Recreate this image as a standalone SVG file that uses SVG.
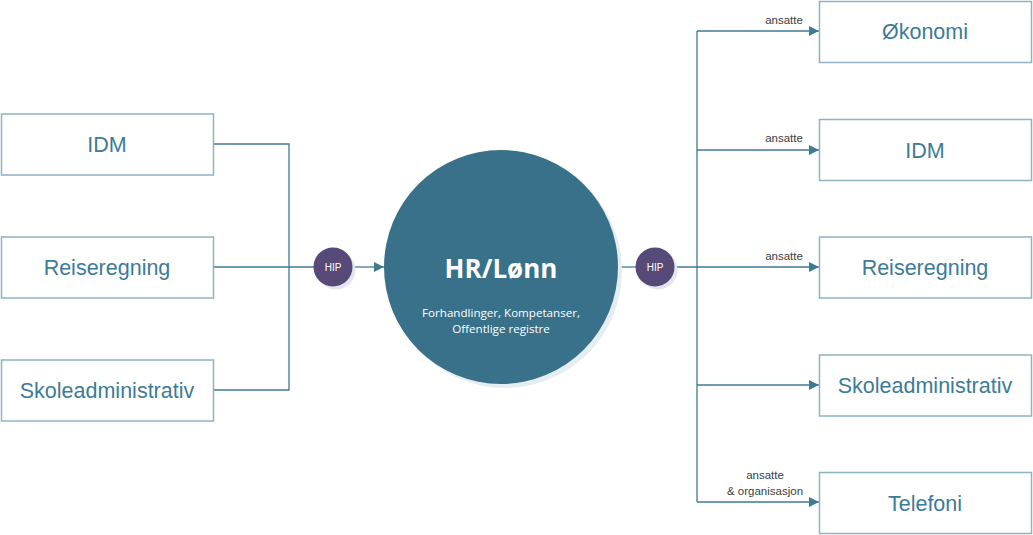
<svg xmlns="http://www.w3.org/2000/svg" width="1033" height="535" viewBox="0 0 1033 535">
<defs>
<style>
.box{fill:#fff;stroke:#8FB3C3;stroke-width:1.5}
.bt{font-family:"Liberation Sans",Arial,sans-serif;font-size:21.5px;fill:#3D7B98;text-anchor:middle}
.con{fill:none;stroke:#3F7A93;stroke-width:1.3}
.lbl{font-family:"Liberation Sans",Arial,sans-serif;font-size:11.5px;fill:#404040;text-anchor:middle}
.hip{fill:#574A79}
.hipt{font-family:"Liberation Sans",Arial,sans-serif;font-size:10px;fill:#fff;text-anchor:middle}
.sh{fill:#E3E6EC}
</style>
<marker id="arr" markerWidth="10" markerHeight="10" refX="10" refY="5" orient="auto" markerUnits="userSpaceOnUse">
<path d="M0,0 L10,5 L0,10 Z" fill="#3F7A93"/>
</marker>
</defs>
<rect width="1033" height="535" fill="#fff"/>
<g id="connectors">
<polyline class="con" points="213,144 289,144 289,390 213,390"/>
<line class="con" x1="213" y1="267" x2="314" y2="267"/>
<line class="con" x1="353" y1="267" x2="384" y2="267" marker-end="url(#arr)"/>
<line class="con" x1="618" y1="267" x2="636" y2="267"/>
<line class="con" x1="675" y1="267" x2="819" y2="267" marker-end="url(#arr)"/>
<line class="con" x1="697" y1="31" x2="697" y2="502"/>
<line class="con" x1="697" y1="31" x2="819" y2="31" marker-end="url(#arr)"/>
<line class="con" x1="697" y1="150" x2="819" y2="150" marker-end="url(#arr)"/>
<line class="con" x1="697" y1="385" x2="819" y2="385" marker-end="url(#arr)"/>
<line class="con" x1="697" y1="502" x2="819" y2="502" marker-end="url(#arr)"/>
<text class="lbl" x="784" y="24">ansatte</text>
<text class="lbl" x="784" y="142">ansatte</text>
<text class="lbl" x="784" y="260">ansatte</text>
<text class="lbl" x="765" y="479">ansatte</text>
<text class="lbl" x="765" y="495">&amp; organisasjon</text>
</g>
<g id="l-idm"><rect class="box" x="1.5" y="114" width="212" height="61"/><text class="bt" x="107" y="152">IDM</text></g>
<g id="l-reise"><rect class="box" x="1.5" y="237" width="212" height="61"/><text class="bt" x="107" y="275">Reiseregning</text></g>
<g id="l-skole"><rect class="box" x="1.5" y="360" width="212" height="61"/><text class="bt" x="107" y="398">Skoleadministrativ</text></g>
<g id="hip-left"><circle class="sh" cx="336" cy="270" r="19.5"/><circle class="hip" cx="333" cy="267" r="19.5"/><text class="hipt" x="333" y="271">HIP</text></g>
<g id="hr">
<circle cx="505" cy="271" r="117" fill="#E6EDF0"/>
<circle cx="501" cy="267" r="117" fill="#387189"/>
<text x="501" y="278" font-family="'Open Sans','Liberation Sans',sans-serif" font-size="26" font-weight="bold" fill="#fff" text-anchor="middle">HR/Lønn</text>
<text x="501" y="317" font-family="'Open Sans','Liberation Sans',sans-serif" font-size="11.6" fill="#fff" text-anchor="middle">Forhandlinger, Kompetanser,</text>
<text x="501" y="333" font-family="'Open Sans','Liberation Sans',sans-serif" font-size="11.6" fill="#fff" text-anchor="middle">Offentlige registre</text>
</g>
<g id="hip-right"><circle class="sh" cx="658" cy="270" r="19.5"/><circle class="hip" cx="655" cy="267" r="19.5"/><text class="hipt" x="655" y="271">HIP</text></g>
<g id="r-okonomi"><rect class="box" x="819.5" y="1.5" width="212" height="61"/><text class="bt" x="925" y="39">Økonomi</text></g>
<g id="r-idm"><rect class="box" x="819.5" y="119.5" width="212" height="61"/><text class="bt" x="925" y="158">IDM</text></g>
<g id="r-reise"><rect class="box" x="819.5" y="237" width="212" height="61"/><text class="bt" x="925" y="275">Reiseregning</text></g>
<g id="r-skole"><rect class="box" x="819.5" y="355" width="212" height="61"/><text class="bt" x="925" y="393">Skoleadministrativ</text></g>
<g id="r-telefoni"><rect class="box" x="819.5" y="472.5" width="212" height="61"/><text class="bt" x="925" y="511">Telefoni</text></g>
</svg>
